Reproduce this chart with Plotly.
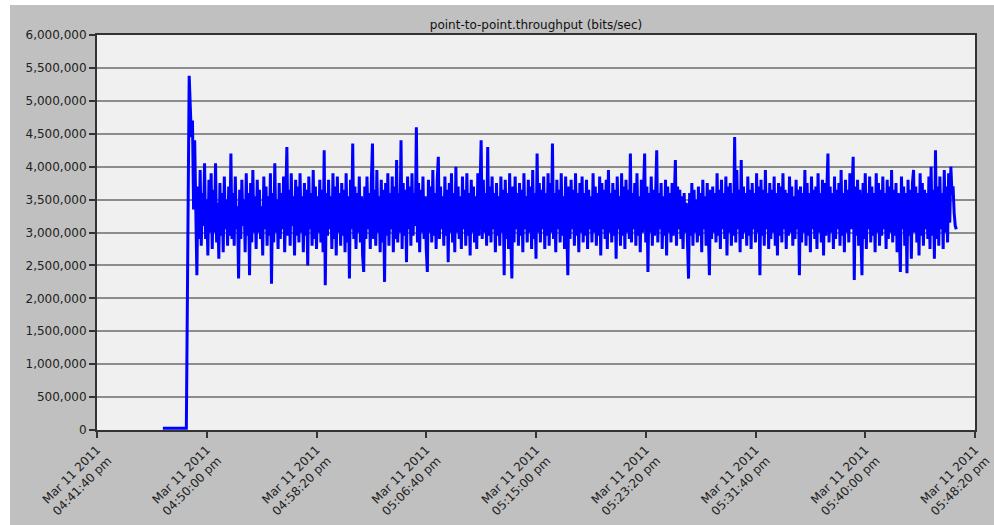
import pandas as pd
import plotly.graph_objects as go

# throughput samples, kbit/s, one every 5 s starting 16:48:40
throughput_k = [
    5380, 5000, 4450, 4700, 3350, 4400, 3300, 2350, 3700, 2900, 3950, 2800, 3600, 3100, 4050, 2900, 3500, 2650, 3800, 3000,
    3900, 2750, 3650, 3000, 4050, 2850, 3450, 2600, 3750, 2950, 3600, 2700, 3850, 3050, 3500, 2800, 3700, 2950, 4200, 2900,
    3600, 2800, 3850, 3050, 3400, 2300, 3650, 2900, 3800, 3100, 3500, 2700, 3900, 2950, 3600, 2350, 3750, 2850, 3950, 3000,
    3550, 2750, 3800, 3000, 3650, 2900, 3400, 2650, 3850, 3050, 3700, 2800, 3550, 2950, 3900, 2220, 3600, 2850, 4050, 3000,
    3500, 2750, 3750, 2900, 3600, 3050, 3850, 2700, 3500, 4300, 2950, 3650, 2800, 3900, 3100, 3550, 2650, 3800, 2950, 3700,
    2850, 3900, 3000, 3550, 2700, 3750, 2950, 3650, 2500, 3850, 3050, 3600, 2800, 3950, 2900, 3700, 2750, 3550, 3000, 3800,
    2850, 3650, 2700, 4250, 2200, 3600, 2950, 3800, 3050, 3550, 2750, 3900, 2900, 3700, 2650, 3850, 3000, 3600, 2800, 3750,
    2950, 3650, 2700, 3900, 2850, 3550, 2300, 3800, 3050, 4350, 2900, 3700, 2750, 3600, 3000, 3850, 2850, 3550, 2650, 2400,
    3700, 2900, 3850, 3050, 3600, 2750, 3800, 4350, 2900, 3650, 2800, 3950, 3000, 3550, 2700, 3800, 2850, 3650, 2250, 3750,
    2950, 3900, 2800, 3600, 3050, 3850, 2700, 3700, 2900, 4100, 2850, 3600, 3000, 4400, 2750, 3750, 2950, 3650, 2550, 3850,
    3050, 3700, 2800, 3900, 2950, 3600, 3100, 4600, 2850, 3750, 2700, 3650, 3000, 3850, 2900, 3550, 2750, 2400, 3800, 3000,
    3700, 2850, 3950, 2950, 3600, 2750, 3800, 4150, 2900, 3700, 3050, 3550, 2800, 3850, 2950, 3650, 2550, 3750, 3000, 3900,
    2850, 3600, 2700, 4000, 3000, 3700, 2900, 3550, 2750, 3850, 3050, 3650, 2800, 3900, 2950, 3600, 2650, 3800, 3000, 3700,
    2850, 3550, 2750, 3900, 2950, 3650, 4400, 2900, 3800, 3000, 3600, 2800, 4300, 2950, 3700, 2850, 3850, 3050, 3600, 2700,
    3750, 2950, 3550, 2800, 3850, 3000, 3650, 2350, 3800, 2900, 3600, 2750, 3900, 2950, 2300, 3700, 2850, 3850, 3050, 3600,
    2800, 3750, 2950, 3650, 2700, 3900, 3050, 3550, 2850, 3800, 3000, 3700, 2750, 3950, 2900, 3600, 2600, 4200, 3000, 3750,
    2850, 3650, 3050, 3850, 2750, 3600, 2950, 3900, 2800, 3750, 3000, 4350, 2900, 3600, 2700, 3800, 3050, 3650, 2850, 3900,
    2950, 3550, 2750, 3850, 3000, 2350, 3700, 2900, 3800, 3050, 3650, 2800, 3900, 2950, 3600, 2700, 3750, 3000, 3850, 2850,
    3600, 2950, 3800, 2750, 3650, 3050, 3550, 2850, 3900, 3000, 3700, 2800, 3600, 2950, 3850, 2650, 3750, 3050, 3650, 2900,
    3800, 2750, 3950, 3000, 3600, 2850, 3750, 2950, 3650, 2600, 3850, 3050, 3550, 2800, 3900, 2950, 3700, 2750, 3800, 3000,
    3650, 2900, 4200, 2850, 3600, 3050, 3750, 2800, 3900, 2950, 3550, 2700, 3800, 3000, 3650, 4200, 2850, 3700, 2400, 3600,
    3000, 3850, 2800, 3650, 2950, 3900, 4250, 2850, 3600, 3050, 3750, 2750, 3550, 2950, 3800, 2650, 3700, 3000, 3600, 2850,
    3750, 2950, 3550, 4100, 2800, 3700, 3050, 3650, 2900, 3550, 2750, 3600, 3000, 3450, 2850, 2300, 3600, 2950, 3750, 2800,
    3650, 3000, 3500, 2850, 3700, 2950, 3600, 2700, 3800, 3050, 3550, 2800, 3750, 2950, 2350, 3650, 2900, 3700, 3000, 3600,
    2850, 3900, 2950, 3650, 2750, 3800, 3050, 3600, 2900, 3850, 2650, 3700, 3000, 3750, 2800, 3600, 2950, 4450, 2850, 3950,
    3050, 3650, 2700, 4100, 2900, 3700, 3000, 3600, 2800, 3850, 2950, 3650, 2750, 3750, 3050, 3600, 2850, 3900, 3000, 3700,
    2350, 3800, 2950, 3650, 2800, 3950, 3050, 3600, 2750, 3750, 2900, 3650, 3000, 3850, 2800, 3600, 2650, 3750, 2950, 3700,
    2850, 3900, 3050, 3650, 2750, 3600, 2950, 3850, 3000, 3700, 2800, 3550, 2900, 3800, 3050, 3650, 2350, 3700, 2850, 3600,
    3000, 3950, 2800, 3750, 2950, 3600, 2700, 3850, 3050, 3650, 2900, 3700, 2750, 3900, 3000, 3600, 2850, 3800, 2650, 3750,
    2950, 3650, 4200, 2850, 3700, 3000, 3600, 2750, 3850, 2900, 3650, 3050, 3750, 2800, 3950, 2950, 3600, 2700, 3800, 3000,
    3650, 2850, 3900, 3050, 3600, 4150, 2280, 3700, 2950, 3800, 2800, 3650, 3000, 2350, 3750, 2900, 3900, 2750, 3600, 3050,
    3850, 2850, 3700, 2950, 3600, 2700, 3900, 3000, 3750, 2800, 3650, 2950, 3850, 3050, 3600, 2750, 3800, 2900, 3700, 3000,
    3950, 2850, 3650, 2950, 3750, 2700, 3600, 2900, 2400, 3850, 3050, 3700, 2800, 3600, 2380, 3800, 2950, 3650, 2600, 3750,
    3950, 3000, 3700, 2850, 3600, 2650, 3900, 2950, 3750, 2800, 3650, 3050, 3600, 2900, 3850, 2750, 4000, 2950, 3650, 2600,
    4250, 2900, 3700, 2800, 3850, 3050, 3600, 2750, 3950, 3000, 3700, 2850, 3900, 3150, 4000, 3600, 3700, 3300, 3100, 3050,
]
idle_times = ["2011-03-11 16:46:40", "2011-03-11 16:48:27"]
idle_values = [25000, 25000]

tick_times = ["16:41:40", "16:50:00", "16:58:20", "17:06:40", "17:15:00",
              "17:23:20", "17:31:40", "17:40:00", "17:48:20"]
tick_labels = ["04:41:40 pm", "04:50:00 pm", "04:58:20 pm", "05:06:40 pm", "05:15:00 pm",
               "05:23:20 pm", "05:31:40 pm", "05:40:00 pm", "05:48:20 pm"]

times = list(pd.to_datetime(idle_times)) + list(
    pd.date_range("2011-03-11 16:48:40", periods=len(throughput_k), freq="5s"))
values = idle_values + [v * 1000 for v in throughput_k]

fig = go.Figure(go.Scatter(
    x=times, y=values, mode="lines",
    line=dict(color="#0000ff", width=3),
    hoverinfo="skip",
))

base_font = dict(family="DejaVu Sans, Verdana, sans-serif", size=12, color="#222")

# plot area: x 97..975, y 35..430 in the 994x525 picture
fig.update_layout(
    width=994, height=525,
    paper_bgcolor="#c0c0c0", plot_bgcolor="#f0f0f0",
    margin=dict(l=97, r=19, t=35, b=95, autoexpand=False),
    showlegend=False,
    font=base_font,
    title=dict(text="point-to-point.throughput (bits/sec)", x=536 / 994, xanchor="center",
               y=1 - 25 / 525, yanchor="middle", font=dict(size=12, color="#111")),
    shapes=[
        dict(type="rect", xref="paper", yref="paper", x0=-97 / 878, x1=-87 / 878,
             y0=-95 / 395, y1=1 + 35 / 395, fillcolor="white", line_width=0, layer="above"),
        dict(type="rect", xref="paper", yref="paper", x0=-97 / 878, x1=1 + 19 / 878,
             y0=1 + 30 / 395, y1=1 + 35 / 395, fillcolor="white", line_width=0, layer="above"),
    ],
)

fig.update_xaxes(
    type="date", automargin=False,
    range=["2011-03-11 16:41:40", "2011-03-11 17:48:20"],
    tickvals=[f"2011-03-11 {t}" for t in tick_times],
    ticktext=[f"Mar 11 2011<br>{lab}" for lab in tick_labels],
    tickangle=-45,
    ticks="outside", ticklen=6, tickcolor="#333", tickwidth=1.5,
    showgrid=False, zeroline=False,
    showline=True, linecolor="#333", linewidth=2, mirror=True,
)
fig.update_yaxes(
    automargin=False,
    range=[0, 6000000], dtick=500000, tickformat=",d",
    ticks="outside", ticklen=6, tickcolor="#333", tickwidth=1.5,
    showgrid=True, gridcolor="#8c8c8c", gridwidth=1.5, zeroline=False,
    showline=True, linecolor="#333", linewidth=2, mirror=True,
)

fig.write_html("out.html", config={"displayModeBar": False},
               post_script="document.body.style.margin='0';")
